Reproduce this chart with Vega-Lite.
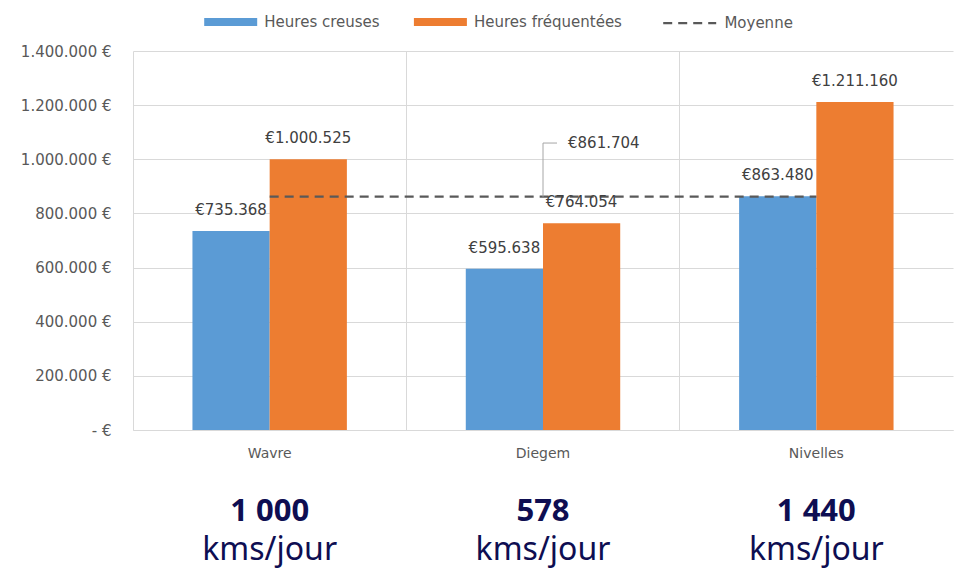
{
  "$schema": "https://vega.github.io/schema/vega-lite/v6.json",
  "background": "white",
  "padding": {"left": 20, "top": 13, "right": 3, "bottom": 0},
  "bounds": "flush",
  "spacing": 62,
  "config": {
    "view": {"stroke": null},
    "font": "DejaVu Sans",
    "locale": {"number": {"decimal": ",", "thousands": ".", "grouping": [3], "currency": ["€", ""]}},
    "legend": {"orient": "none", "direction": "horizontal", "padding": 0, "labelFont": "DejaVu Sans", "labelFontSize": 15, "labelColor": "#595959", "title": null, "legendY": -38}
  },
  "datasets": {
    "bars": [
      {"cat": "Wavre", "serie": "Heures creuses", "v": 735368},
      {"cat": "Wavre", "serie": "Heures fréquentées", "v": 1000525},
      {"cat": "Diegem", "serie": "Heures creuses", "v": 595638},
      {"cat": "Diegem", "serie": "Heures fréquentées", "v": 764054},
      {"cat": "Nivelles", "serie": "Heures creuses", "v": 863480},
      {"cat": "Nivelles", "serie": "Heures fréquentées", "v": 1211160}
    ],
    "avg": [
      {"cat": "Wavre", "s": "Moyenne", "v": 861704},
      {"cat": "Diegem", "s": "Moyenne", "v": 861704},
      {"cat": "Nivelles", "s": "Moyenne", "v": 861704}
    ],
    "avglabel": [
      {"cat": "Diegem", "v": 861704, "ly": 1060000}
    ],
    "kmnum": [
      {"cat": "Wavre", "t": "1 000"},
      {"cat": "Diegem", "t": "578"},
      {"cat": "Nivelles", "t": "1 440"}
    ],
    "kmunit": [
      {"cat": "Wavre", "t": "kms/jour"},
      {"cat": "Diegem", "t": "kms/jour"},
      {"cat": "Nivelles", "t": "kms/jour"}
    ]
  },
  "vconcat": [
    {
      "width": 820,
      "height": 379,
      "resolve": {"axis": {"x": "independent"}},
      "layer": [
        {
          "data": {"name": "bars"},
          "mark": {"type": "rule", "opacity": 0},
          "encoding": {
            "x": {
              "field": "cat", "type": "nominal", "sort": ["Wavre", "Diegem", "Nivelles"],
              "scale": {"paddingInner": 0, "paddingOuter": 0},
              "axis": {"orient": "top", "bandPosition": 0, "grid": true, "gridColor": "#d9d9d9", "labels": false, "ticks": false, "domain": false, "title": null}
            }
          }
        },
        {
          "data": {"name": "bars"},
          "mark": {"type": "bar"},
          "encoding": {
            "x": {
              "field": "cat", "type": "nominal", "sort": ["Wavre", "Diegem", "Nivelles"],
              "axis": {"title": null, "labelAngle": 0, "ticks": false, "grid": false, "domainColor": "#d9d9d9", "labelPadding": 16, "labelFontSize": 14, "labelColor": "#595959", "labelFont": "DejaVu Sans"}
            },
            "xOffset": {"field": "serie", "sort": ["Heures creuses", "Heures fréquentées"], "scale": {"paddingInner": 0, "paddingOuter": 0.77}},
            "y": {
              "field": "v", "type": "quantitative",
              "scale": {"domain": [0, 1400000]},
              "axis": {"title": null, "values": [0, 200000, 400000, 600000, 800000, 1000000, 1200000, 1400000], "labelExpr": "datum.value === 0 ? '- €' : format(datum.value, ',') + ' €'", "domain": false, "ticks": false, "gridColor": "#d9d9d9", "labelPadding": 22, "labelFontSize": 15, "labelColor": "#595959", "labelFont": "DejaVu Sans"}
            },
            "color": {
              "field": "serie", "type": "nominal",
              "scale": {"domain": ["Heures creuses", "Heures fréquentées"], "range": ["#5b9bd5", "#ed7d31"]},
              "legend": {"legendX": 88.7, "symbolType": "M-3,-0.453H3V0.453H-3Z", "symbolSize": 312, "symbolStrokeWidth": 0, "symbolOpacity": 1, "columnPadding": 33.7, "labelOffset": 24.6}
            }
          }
        },
        {
          "data": {"name": "avg"},
          "mark": {"type": "line", "strokeWidth": 2.25, "color": "#595959"},
          "encoding": {
            "x": {"field": "cat", "type": "nominal", "sort": ["Wavre", "Diegem", "Nivelles"], "axis": null},
            "y": {"field": "v", "type": "quantitative"},
            "strokeDash": {
              "field": "s", "type": "nominal",
              "scale": {"domain": ["Moyenne"], "range": [[9, 6]]},
              "legend": {"legendX": 546.7, "symbolType": "M-3,0H3", "symbolSize": 312, "symbolStrokeColor": "#595959", "symbolStrokeWidth": 2.25, "symbolFillColor": "transparent", "labelOffset": 24.7}
            }
          }
        },
        {
          "data": {"name": "bars"},
          "mark": {"type": "text", "baseline": "alphabetic", "dy": -16, "fontSize": 15, "color": "#404040", "font": "DejaVu Sans"},
          "encoding": {
            "x": {"field": "cat", "type": "nominal", "sort": ["Wavre", "Diegem", "Nivelles"], "axis": null},
            "xOffset": {"field": "serie", "sort": ["Heures creuses", "Heures fréquentées"]},
            "y": {"field": "v", "type": "quantitative"},
            "text": {"field": "v", "type": "quantitative", "format": "$,.0f"}
          }
        },
        {
          "data": {"name": "avglabel"},
          "mark": {"type": "rule", "color": "#a6a6a6", "strokeWidth": 1},
          "encoding": {
            "x": {"field": "cat", "type": "nominal", "sort": ["Wavre", "Diegem", "Nivelles"], "axis": null},
            "y": {"field": "v", "type": "quantitative"},
            "y2": {"field": "ly"}
          }
        },
        {
          "data": {"name": "avglabel"},
          "mark": {"type": "rule", "color": "#a6a6a6", "strokeWidth": 1, "x2Offset": 14},
          "encoding": {
            "x": {"field": "cat", "type": "nominal", "sort": ["Wavre", "Diegem", "Nivelles"], "axis": null},
            "x2": {"field": "cat"},
            "y": {"field": "ly", "type": "quantitative"}
          }
        },
        {
          "data": {"name": "avglabel"},
          "mark": {"type": "text", "align": "left", "baseline": "middle", "dx": 25, "fontSize": 15, "color": "#404040", "font": "DejaVu Sans"},
          "encoding": {
            "x": {"field": "cat", "type": "nominal", "sort": ["Wavre", "Diegem", "Nivelles"], "axis": null},
            "y": {"field": "ly", "type": "quantitative"},
            "text": {"field": "v", "type": "quantitative", "format": "$,.0f"}
          }
        }
      ]
    },
    {
      "width": 820,
      "height": 76,
      "layer": [
        {
          "data": {"name": "kmnum"},
          "mark": {"type": "text", "font": "Noto Sans", "fontWeight": "bold", "fontSize": 31, "color": "#0e0e52", "baseline": "middle", "dy": -18},
          "encoding": {
            "x": {"field": "cat", "type": "nominal", "sort": ["Wavre", "Diegem", "Nivelles"], "scale": {"paddingInner": 0, "paddingOuter": 0}, "axis": null},
            "text": {"field": "t"}
          }
        },
        {
          "data": {"name": "kmunit"},
          "mark": {"type": "text", "font": "Noto Sans", "fontSize": 32, "color": "#0e0e52", "baseline": "middle", "dy": 20},
          "encoding": {
            "x": {"field": "cat", "type": "nominal", "sort": ["Wavre", "Diegem", "Nivelles"]},
            "text": {"field": "t"}
          }
        }
      ]
    }
  ]
}
